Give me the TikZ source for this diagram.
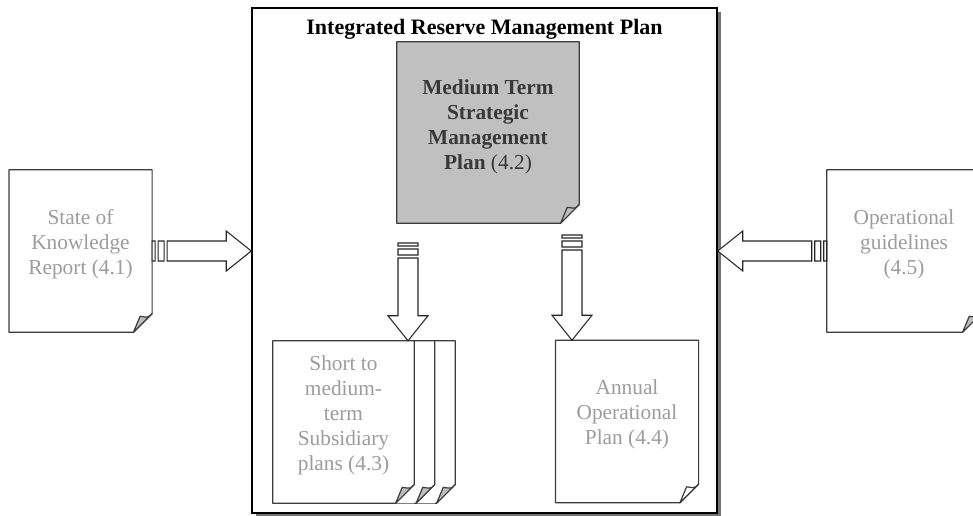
\documentclass[tikz,border=0pt]{standalone}
\usepackage{fontspec}
\setmainfont{Liberation Serif}
\usepackage{tikz}
\usetikzlibrary{calc,shadows}

\definecolor{pageline}{HTML}{3C3C3C}
\definecolor{paletext}{HTML}{9C9C9C}
\definecolor{darktext}{HTML}{383838}
\definecolor{planfill}{HTML}{C0C0C0}
\definecolor{foldfill}{HTML}{BDBDBD}

\tikzset{
  frame/.style={draw=black, line width=1.1pt, fill=white, inner sep=0pt,
    minimum width=348.75pt, minimum height=378.75pt,
    drop shadow={shadow xshift=3pt, shadow yshift=-3pt, fill=black!55, opacity=1}},
  titletext/.style={font=\fontsize{16.5}{19}\selectfont\bfseries, inner sep=0pt},
  page/.style={fill=white, inner sep=0pt, minimum width=107pt, minimum height=121.5pt},
  pagetext/.style={font=\fontsize{16}{18.75}\selectfont, text=paletext, align=center, yshift=5pt},
  pageedge/.style={draw=pageline, line width=0.9pt, line join=round},
  bigarrow/.style={draw=black!85, fill=white, line width=0.8pt,
    to path={
      ($(\tikztostart)!7.5pt!90:(\tikztotarget)$)
        -- ($(\tikztostart)!2.25pt!(\tikztotarget)!7.5pt!90:(\tikztotarget)$)
        -- ($(\tikztostart)!2.25pt!(\tikztotarget)!7.5pt!-90:(\tikztotarget)$)
        -- ($(\tikztostart)!7.5pt!-90:(\tikztotarget)$) -- cycle
      ($(\tikztostart)!4.5pt!(\tikztotarget)!7.5pt!90:(\tikztotarget)$)
        -- ($(\tikztostart)!9pt!(\tikztotarget)!7.5pt!90:(\tikztotarget)$)
        -- ($(\tikztostart)!9pt!(\tikztotarget)!7.5pt!-90:(\tikztotarget)$)
        -- ($(\tikztostart)!4.5pt!(\tikztotarget)!7.5pt!-90:(\tikztotarget)$) -- cycle
      ($(\tikztostart)!11.25pt!(\tikztotarget)!7.5pt!90:(\tikztotarget)$)
        -- ($(\tikztotarget)!18.75pt!(\tikztostart)!7.5pt!-90:(\tikztostart)$)
        -- ($(\tikztotarget)!18.75pt!(\tikztostart)!15pt!-90:(\tikztostart)$)
        -- (\tikztotarget)
        -- ($(\tikztotarget)!18.75pt!(\tikztostart)!15pt!90:(\tikztostart)$)
        -- ($(\tikztotarget)!18.75pt!(\tikztostart)!7.5pt!90:(\tikztostart)$)
        -- ($(\tikztostart)!11.25pt!(\tikztotarget)!7.5pt!-90:(\tikztotarget)$) -- cycle
    }},
}

% outline of a page node with its turned-down corner
\newcommand\pageoutline[2][foldfill]{%
  \fill[white] ([yshift=14pt]#2.south east) -- (#2.south east) -- ([xshift=-14pt]#2.south east) -- cycle;
  \draw[pageedge] (#2.north west) -- (#2.north east) -- ([yshift=14pt]#2.south east)
    -- ([xshift=-14pt]#2.south east) -- (#2.south west) -- cycle;
  \draw[pageedge, fill=#1] ([yshift=14pt]#2.south east)
    .. controls ([xshift=-3pt,yshift=11pt]#2.south east) .. ([xshift=-9pt,yshift=12pt]#2.south east)
    -- ([xshift=-14pt]#2.south east) -- cycle;
}

\begin{document}
\begin{tikzpicture}[x=0.75pt, y=-0.75pt]
\useasboundingbox (0,0) rectangle (973,515);

\node[frame, label={[titletext, anchor=base, yshift=-20.25pt]north:Integrated Reserve Management Plan}] (irmp) at (484.5,260.5) {};

\node[page, fill=planfill, minimum width=136.5pt, minimum height=135.75pt,
  label={[pagetext, text=darktext, yshift=-1pt]center:{\textbf{Medium Term}\\\textbf{Strategic}\\\textbf{Management}\\\textbf{Plan} (4.2)}}] (mtsmp) at (488,132.5) {};
\pageoutline{mtsmp}

\node[page, label={[pagetext]center:{State of\\Knowledge\\Report (4.1)}}] (know) at (80.5,251) {};
\pageoutline{know}

\node[page, minimum width=115.5pt, label={[pagetext]center:{Operational\\guidelines\\(4.5)}}] (guide) at (904,251) {};
\pageoutline{guide}

\node[page, minimum width=105.75pt] (sub3) at (384.5,422) {};
\pageoutline{sub3}
\node[page, minimum width=105.75pt] (sub2) at (364,422) {};
\pageoutline{sub2}
\node[page, minimum width=105.75pt, label={[pagetext]center:{Short to\\medium-\\term\\Subsidiary\\plans (4.3)}}] (sub) at (343.5,422) {};
\pageoutline{sub}

\node[page, label={[pagetext]center:{Annual\\Operational\\Plan (4.4)}}] (aop) at (627,421.5) {};
\pageoutline[white]{aop}

\coordinate (kt) at (know.east -| irmp.west);
\coordinate (gt) at (guide.west -| irmp.east);
\coordinate (s1) at (408,243);
\coordinate (t1) at (s1 |- sub.north);
\coordinate (s2) at (572,235);
\coordinate (t2) at (s2 |- aop.north);

\draw[bigarrow] (know.east) to (kt);
\draw[bigarrow] (guide.west) to (gt);
\draw[bigarrow] (s1) to (t1);
\draw[bigarrow] (s2) to (t2);
\end{tikzpicture}
\end{document}
